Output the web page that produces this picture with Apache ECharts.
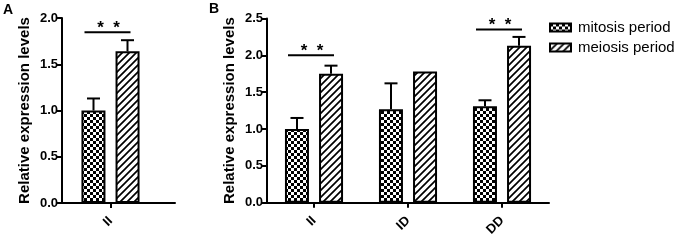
<!DOCTYPE html>
<html><head><meta charset="utf-8">
<script src="https://cdn.jsdelivr.net/npm/echarts@6/dist/echarts.min.js"></script>
<style>html,body{margin:0;padding:0;background:#fff}#c{width:682px;height:243px}</style>
</head><body><div id="c"></div>
<script>
// ---- data ----
const catsA = ['II'];
const catsB = ['II', 'ID', 'DD'];
const mitosisA = [1.0];
const mitosisErrA = [0.13];
const meiosisA = [1.64];
const meiosisErrA = [0.12];
const mitosisB = [1.0, 1.27, 1.31];
const mitosisErrB = [0.15, 0.35, 0.08];
const meiosisB = [1.75, 1.78, 2.13];
const meiosisErrB = [0.11, 0.0, 0.12];
const sigA = [[0, 1.845]];
const sigB = [[0, 2.0], [2, 2.35]];
const seriesNames = ['mitosis period', 'meiosis period'];
const yTicksA = { min: 0, max: 2.0, interval: 0.5 };
const yTicksB = { min: 0, max: 2.5, interval: 0.5 };
const yTitle = 'Relative expression levels';

// ---- patterns ----
function checker() {
  const c = document.createElement('canvas'); c.width = 6; c.height = 6;
  const g = c.getContext('2d');
  g.fillStyle = '#fff'; g.fillRect(0, 0, 6, 6);
  g.fillStyle = '#000'; g.fillRect(0, 0, 3, 3); g.fillRect(3, 3, 3, 3);
  return { image: c, repeat: 'repeat' };
}
function hatch() {
  const s = 7;
  const c = document.createElement('canvas'); c.width = s; c.height = s;
  const g = c.getContext('2d');
  g.fillStyle = '#fff'; g.fillRect(0, 0, s, s);
  g.strokeStyle = '#000'; g.lineWidth = 1.7;
  g.beginPath();
  g.moveTo(-1, s + 1); g.lineTo(s + 1, -1);
  g.moveTo(-1, 1); g.lineTo(1, -1);
  g.moveTo(s - 1, s + 1); g.lineTo(s + 1, s - 1);
  g.stroke();
  return { image: c, repeat: 'repeat' };
}
const patChecker = checker();
const patHatch = hatch();

const FONT = 'Liberation Sans';
const BAR_W = 24, OFF = 17, CAP = 6.5;

function errSeries(xi, yi, means, errs, off) {
  return {
    type: 'custom', xAxisIndex: xi, yAxisIndex: yi, z: 3, silent: true,
    data: means.map((m, i) => [i, m, errs[i]]),
    renderItem: function (params, api) {
      const top = api.coord([api.value(0), api.value(1)]);
      const hi = api.coord([api.value(0), api.value(1) + api.value(2)]);
      const x = top[0] + off;
      if (api.value(2) <= 0) return { type: 'group', children: [] };
      return {
        type: 'group', children: [
          { type: 'line', shape: { x1: x, y1: top[1], x2: x, y2: hi[1] }, style: { stroke: '#000', lineWidth: 2 } },
          { type: 'line', shape: { x1: x - CAP, y1: hi[1], x2: x + CAP, y2: hi[1] }, style: { stroke: '#000', lineWidth: 2 } }
        ]
      };
    }
  };
}
function sigSeries(xi, yi, data) {
  return {
    type: 'custom', xAxisIndex: xi, yAxisIndex: yi, z: 4, silent: true,
    data: data,
    renderItem: function (params, api) {
      const p = api.coord([api.value(0), api.value(1)]);
      return {
        type: 'group', children: [
          { type: 'line', shape: { x1: p[0] - 26, y1: p[1], x2: p[0] + 20, y2: p[1] }, style: { stroke: '#000', lineWidth: 2 } },
          { type: 'text', style: { x: p[0] - 2, y: p[1] - 4, text: '*  *', fill: '#000', font: 'bold 17px ' + FONT, align: 'center', verticalAlign: 'middle' } }
        ]
      };
    }
  };
}
function barSeries(name, xi, yi, data, pat) {
  return {
    name: name, type: 'bar', xAxisIndex: xi, yAxisIndex: yi,
    data: data, barWidth: BAR_W, barGap: '42%',
    itemStyle: { color: pat, borderColor: '#000', borderWidth: 2 },
    emphasis: { disabled: true }
  };
}

const axisLineStyle = { show: true, lineStyle: { color: '#000', width: 2 } };
const labelStyle = { color: '#000', fontFamily: FONT, fontWeight: 'bold', fontSize: 13 };

function yAxis(gi, t) {
  return {
    type: 'value', gridIndex: gi, min: t.min, max: t.max, interval: t.interval,
    axisLine: axisLineStyle,
    axisTick: { show: true, length: 5, lineStyle: { color: '#000', width: 2 } },
    splitLine: { show: false },
    axisLabel: Object.assign({ margin: 4, formatter: v => v.toFixed(1) }, labelStyle),
    name: yTitle, nameLocation: 'middle', nameGap: 30,
    nameTextStyle: { color: '#000', fontFamily: FONT, fontWeight: 'bold', fontSize: 15 }
  };
}
function xAxis(gi, cats) {
  return {
    type: 'category', gridIndex: gi, data: cats,
    axisLine: axisLineStyle,
    axisTick: { show: true, alignWithLabel: true, length: 5, lineStyle: { color: '#000', width: 2 } },
    axisLabel: Object.assign({ rotate: 45, margin: 16 }, labelStyle)
  };
}

const option = {
  animation: false,
  backgroundColor: '#fff',
  grid: [
    { left: 62, top: 18, width: 97, height: 185 },
    { left: 62, top: 18, width: 113, height: 185 },
    { left: 267, top: 18.5, width: 282, height: 184.2 }
  ],
  xAxis: [
    xAxis(0, catsA),
    { type: 'category', gridIndex: 1, data: [''], axisLine: axisLineStyle, axisTick: { show: false }, axisLabel: { show: false } },
    xAxis(2, catsB)
  ],
  yAxis: [
    yAxis(0, yTicksA),
    { type: 'value', gridIndex: 1, show: false, min: yTicksA.min, max: yTicksA.max },
    yAxis(2, yTicksB)
  ],
  legend: {
    data: seriesNames, orient: 'vertical', left: 544, top: 15,
    itemWidth: 21, itemHeight: 8, itemGap: 5, icon: 'rect',
    itemStyle: { borderColor: '#000', borderWidth: 2 },
    textStyle: { color: '#000', fontFamily: FONT, fontSize: 15, padding: [0, 0, 0, 2] },
    selectedMode: false
  },
  graphic: [
    { type: 'text', left: 3, top: 3, style: { text: 'A', font: 'bold 14px ' + FONT, fill: '#000' } },
    { type: 'text', left: 209, top: 2, style: { text: 'B', font: 'bold 14px ' + FONT, fill: '#000' } }
  ],
  series: [
    barSeries(seriesNames[0], 0, 0, mitosisA, patChecker),
    barSeries(seriesNames[1], 0, 0, meiosisA, patHatch),
    errSeries(0, 0, mitosisA, mitosisErrA, -OFF),
    errSeries(0, 0, meiosisA, meiosisErrA, OFF),
    sigSeries(0, 0, sigA),
    barSeries(seriesNames[0], 2, 2, mitosisB, patChecker),
    barSeries(seriesNames[1], 2, 2, meiosisB, patHatch),
    errSeries(2, 2, mitosisB, mitosisErrB, -OFF),
    errSeries(2, 2, meiosisB, meiosisErrB, OFF),
    sigSeries(2, 2, sigB)
  ]
};
const chart = echarts.init(document.getElementById('c'), null, { renderer: 'canvas' });
chart.setOption(option);
</script>
</body></html>
